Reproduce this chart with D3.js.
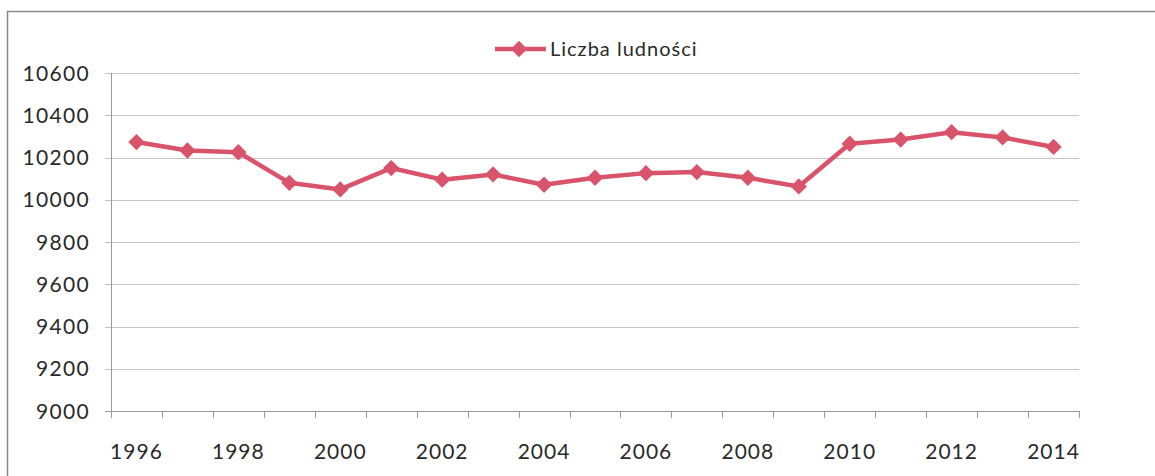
<!DOCTYPE html>
<html>
<head>
<meta charset="utf-8">
<script src="https://cdn.jsdelivr.net/npm/d3@7"></script>
<style>
  body { margin: 0; background: #fff; }
  text { font-family: Lato, "Open Sans", sans-serif; fill: #2a2a2a; }
</style>
</head>
<body>
<script>
// population by year
var years = [1996, 1997, 1998, 1999, 2000, 2001, 2002, 2003, 2004, 2005,
             2006, 2007, 2008, 2009, 2010, 2011, 2012, 2013, 2014];
var population = [10273, 10233, 10225, 10080, 10049, 10150, 10095, 10120, 10071, 10104,
                  10126, 10131, 10104, 10063, 10265, 10285, 10320, 10295, 10250];
var yTicks = [9000, 9200, 9400, 9600, 9800, 10000, 10200, 10400, 10600];
var seriesName = "Liczba ludności";

var W = 1155, H = 476;
var margin = {top: 73, right: 76, bottom: 65, left: 111},
    width = W - margin.left - margin.right,
    height = H - margin.top - margin.bottom;

var col = "#d9546b";

var svg = d3.select("body").append("svg")
    .attr("width", W)
    .attr("height", H);

// outer chart frame (partly cut off in the scan)
svg.append("path")
    .attr("d", "M7.5," + H + "V11.5H" + W)
    .attr("fill", "none")
    .attr("stroke", "#8a8a8a")
    .attr("stroke-width", 1.5);

var g = svg.append("g")
    .attr("transform", "translate(" + margin.left + "," + margin.top + ")");

var x = d3.scaleBand()
    .domain(years)
    .range([0, width]);

var y = d3.scaleLinear()
    .domain([9000, 10600])
    .range([height, 0]);

// gridlines
g.selectAll(".grid").data(yTicks).enter().append("line")
    .attr("class", "grid")
    .attr("x1", -6).attr("x2", width)
    .attr("y1", d => Math.round(y(d)) + 0.5)
    .attr("y2", d => Math.round(y(d)) + 0.5)
    .attr("stroke", d => d == 9000 ? "#9a9a9a" : "#c4c4c4")
    .attr("stroke-width", 1);

// y axis line
g.append("line")
    .attr("x1", 0.5).attr("x2", 0.5)
    .attr("y1", 0).attr("y2", height)
    .attr("stroke", "#9a9a9a");

// y labels
g.selectAll(".ylab").data(yTicks).enter().append("text")
    .attr("class", "ylab")
    .attr("x", -21)
    .attr("y", d => y(d))
    .attr("dy", "0.36em")
    .attr("text-anchor", "end")
    .style("font-size", "21px")
    .style("letter-spacing", "1.3px")
    .text(d => d);

// x ticks at category boundaries
var bounds = years.map(d => x(d)).concat([width]);
g.selectAll(".xtick").data(bounds).enter().append("line")
    .attr("class", "xtick")
    .attr("x1", d => Math.round(d) + 0.5)
    .attr("x2", d => Math.round(d) + 0.5)
    .attr("y1", height).attr("y2", height + 7)
    .attr("stroke", "#9a9a9a");

// x labels, every other year
g.selectAll(".xlab").data(years.filter((d, i) => i % 2 == 0)).enter().append("text")
    .attr("class", "xlab")
    .attr("x", d => x(d) + x.bandwidth() / 2)
    .attr("y", height + 48)
    .attr("text-anchor", "middle")
    .style("font-size", "21px")
    .style("letter-spacing", "1px")
    .text(d => d);

// series
var data = years.map((d, i) => ({year: d, value: population[i]}));
var line = d3.line()
    .x(d => x(d.year) + x.bandwidth() / 2)
    .y(d => y(d.value));

g.append("path")
    .datum(data)
    .attr("d", line)
    .attr("fill", "none")
    .attr("stroke", col)
    .attr("stroke-width", 4.5)
    .attr("stroke-linejoin", "round");

var diamond = d3.symbol().type(d3.symbolDiamond2).size(170);
g.selectAll(".pt").data(data).enter().append("path")
    .attr("class", "pt")
    .attr("transform", d => "translate(" + (x(d.year) + x.bandwidth() / 2) + "," + y(d.value) + ")")
    .attr("d", diamond)
    .attr("fill", col);

// legend
var lg = svg.append("g").attr("transform", "translate(495,49)");
lg.append("line")
    .attr("x1", 0).attr("x2", 51)
    .attr("stroke", col)
    .attr("stroke-width", 4.5);
lg.append("path")
    .attr("transform", "translate(24,0)")
    .attr("d", diamond)
    .attr("fill", col);
lg.append("text")
    .attr("x", 55)
    .attr("dy", "0.36em")
    .style("font-size", "20px")
    .style("letter-spacing", "1px")
    .text(seriesName);
</script>
</body>
</html>
